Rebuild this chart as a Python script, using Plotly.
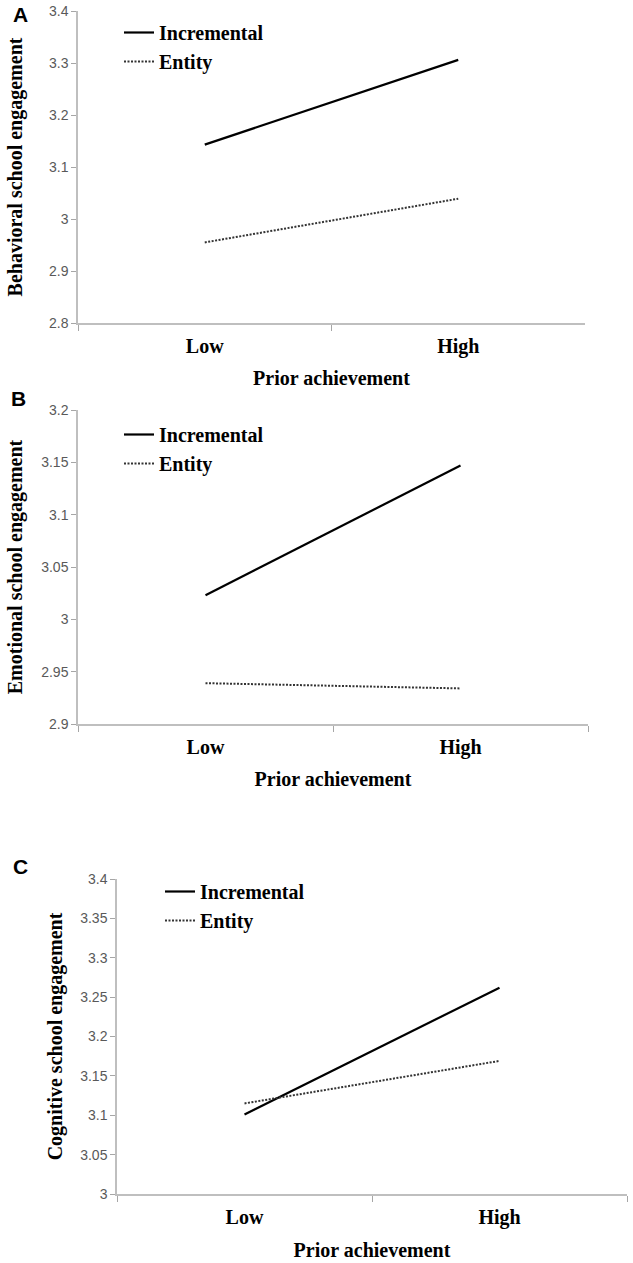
import plotly.graph_objects as go
from plotly.subplots import make_subplots

categories = ["Low", "High"]

behavioral_incremental = [3.143, 3.306]
behavioral_entity = [2.955, 3.039]

emotional_incremental = [3.023, 3.147]
emotional_entity = [2.939, 2.934]

cognitive_incremental = [3.101, 3.262]
cognitive_entity = [3.115, 3.169]

panels = [
    ("A", "Behavioral school engagement", behavioral_incremental, behavioral_entity, [2.8, 3.4], 0.1),
    ("B", "Emotional school engagement", emotional_incremental, emotional_entity, [2.9, 3.2], 0.05),
    ("C", "Cognitive school engagement", cognitive_incremental, cognitive_entity, [3.0, 3.4], 0.05),
]

W, H = 633, 1263
# plot areas in pixels: (left, right, top, bottom)
areas = [(78, 585, 11, 323), (78, 588, 410, 724), (117, 627, 879, 1194)]
ytitle_standoff = [21, 13, 12]
# legend anchors (left x, top y) and panel letters
legend_pos = [(119, 13), (119, 415), (160, 872)]
letter_pos = [(20, 14), (18, 398), (20, 866)]

SERIF = "Liberation Serif, Times New Roman, serif"
SANS = "Liberation Sans, Arial, sans-serif"
NARROW = "Liberation Sans Narrow, Arial Narrow, Liberation Sans, sans-serif"

fig = make_subplots(rows=3, cols=1)

for i, (letter, ytitle, inc, ent, yrange, dtick) in enumerate(panels):
    row = i + 1
    leg = "legend" if i == 0 else f"legend{i + 1}"
    fig.add_trace(
        go.Scatter(
            x=categories,
            y=inc,
            mode="lines",
            name="Incremental",
            line=dict(color="black", width=2.2),
            legend=leg,
        ),
        row=row,
        col=1,
    )
    fig.add_trace(
        go.Scatter(
            x=categories,
            y=ent,
            mode="lines",
            name="Entity",
            line=dict(color="#333333", width=2, dash="2px,1.5px"),
            legend=leg,
        ),
        row=row,
        col=1,
    )

    l, r, t, b = areas[i]
    xd = [l / W, r / W]
    yd = [1 - b / H, 1 - t / H]
    fig.update_xaxes(
        domain=xd,
        type="category",
        range=[-0.5, 1.5],
        tickson="boundaries",
        ticks="outside",
        ticklen=6,
        tickcolor="#a6a6a6",
        ticklabelstandoff=4,
        showline=True,
        linecolor="#bfbfbf",
        linewidth=1.5,
        showgrid=False,
        zeroline=False,
        automargin=False,
        tickfont=dict(family=SERIF, size=20, color="black", weight="bold"),
        title=dict(
            text="Prior achievement",
            font=dict(family=SERIF, size=20, color="black", weight="bold"),
            standoff=15 if i == 2 else 14,
        ),
        row=row,
        col=1,
    )
    fig.update_yaxes(
        domain=yd,
        range=yrange,
        dtick=dtick,
        tick0=yrange[0],
        ticks="outside",
        ticklen=5,
        tickcolor="#a6a6a6",
        showline=True,
        linecolor="#bfbfbf",
        linewidth=1.5,
        showgrid=False,
        zeroline=False,
        automargin=False,
        tickfont=dict(family=NARROW, size=14, color="#595959"),
        title=dict(
            text=ytitle,
            font=dict(family=SERIF, size=20, color="black", weight="bold"),
            standoff=ytitle_standoff[i],
        ),
        row=row,
        col=1,
    )

    lx, ly = legend_pos[i]
    fig.update_layout(
        {
            leg: dict(
                x=lx / W,
                y=1 - ly / H,
                xanchor="left",
                yanchor="top",
                bgcolor="rgba(0,0,0,0)",
                font=dict(family=SERIF, size=20, color="black", weight="bold"),
                tracegroupgap=0,
                itemwidth=30,
            )
        }
    )

    px, py = letter_pos[i]
    fig.add_annotation(
        x=px / W,
        y=1 - py / H,
        xref="paper",
        yref="paper",
        text=letter,
        showarrow=False,
        font=dict(family=SANS, size=21, color="black", weight="bold"),
        xanchor="center",
        yanchor="middle",
    )

fig.update_layout(
    width=W,
    height=H,
    margin=dict(l=0, r=0, t=0, b=0),
    paper_bgcolor="white",
    plot_bgcolor="white",
    showlegend=True,
)

# the page body has a default 8px margin; drop it so the figure fills the window
fig.write_html(
    "out.html",
    config={"displayModeBar": False},
    post_script="document.body.style.margin='0';document.body.style.overflow='hidden';",
)
